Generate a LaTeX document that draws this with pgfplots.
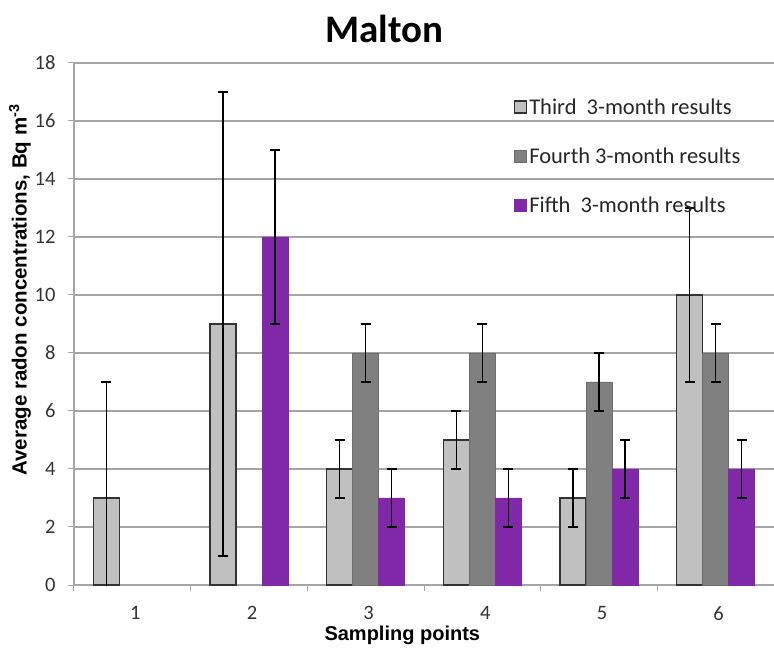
\documentclass[border=0pt]{standalone}
\usepackage{pgfplots}
\pgfplotsset{compat=1.18}
\usepackage{fontspec}
\setmainfont{Carlito}
\newfontfamily\arialf{Liberation Sans}
\usetikzlibrary{calc}
\definecolor{thirdc}{RGB}{192,192,192}
\definecolor{fourthc}{RGB}{128,128,128}
\definecolor{fifthc}{RGB}{128,40,168}
\definecolor{gridc}{RGB}{165,165,165}
\begin{document}
\begin{tikzpicture}
\begin{axis}[
  name=ax,
  scale only axis,
  width=700bp, height=522bp,
  xmin=0.5, xmax=6.5,
  ymin=0, ymax=18,
  ytick={0,2,...,18},
  xtick={1,2,3,4,5,6},
  minor xtick={0.5,1.5,...,6.5},
  major x tick style={draw=none},
  minor tick length=6bp,
  major tick length=6bp,
  tick align=outside,
  tick style={gridc, line width=1bp},
  axis x line*=bottom,
  axis y line*=left,
  axis line style={-, gridc, line width=1.5bp},
  ymajorgrids,
  grid style={gridc, line width=1.5bp},
  /pgf/number format/assume math mode=true,
  ticklabel style={font=\fontsize{20.5bp}{24bp}\selectfont, text=black!80},
  xticklabel style={yshift=-12bp, xshift=3bp},
  yticklabel style={xshift=-9bp},
  ybar=0pt,
  bar width=26bp,
  title={Malton},
  title style={font=\fontsize{39bp}{44bp}\selectfont\bfseries, at={(axis description cs:0.443,1.027)}, anchor=base},
  xlabel={Sampling points},
  xlabel style={font=\arialf\bfseries\fontsize{20bp}{24bp}\selectfont, at={(axis description cs:0.469,-0.072)}, anchor=north},
  ylabel={Average radon concentrations, Bq m\textsuperscript{-3}},
  ylabel style={font=\arialf\bfseries\fontsize{20.5bp}{24bp}\selectfont, at={(axis description cs:-0.077,0.565)}, anchor=center},
  legend style={draw=none, fill=none, at={(axis description cs:0.624,0.94)}, anchor=north west,
    font=\fontsize{22.5bp}{26bp}\selectfont, row sep=28bp, text=black!85},
  legend cell align=left,
  legend image code/.code={\draw[#1] (0bp,-6bp) rectangle (12bp,6bp);},
  error bars/y dir=both,
  error bars/y explicit,
  error bars/error mark=|,
  error bars/error bar style={black, line width=1.3bp},
  error bars/error mark options={black, line width=1.3bp, mark size=5bp},
]
\addplot[fill=thirdc, draw=black!80, line width=1.3bp]
  table[x=x, y=y, y error plus=ep, y error minus=em] {
x y ep em
1 3 4 4
2 9 8 8
3 4 1 1
4 5 1 1
5 3 1 1
6 10 3 3
};
\addlegendentry{Third\ \ 3-month results}
\addplot[fill=fourthc, draw=fourthc!85!black, line width=0.8bp]
  table[x=x, y=y, y error plus=ep, y error minus=em] {
x y ep em
3 8 1 1
4 8 1 1
5 7 1 1
6 8 1 1
};
\addlegendentry{Fourth 3-month results}
\addplot[fill=fifthc, draw=fifthc, line width=0.8bp]
  table[x=x, y=y, y error plus=ep, y error minus=em] {
x y ep em
2 12 3 3
3 3 1 1
4 3 1 1
5 4 1 1
6 4 1 1
};
\addlegendentry{Fifth\ \ 3-month results}
\end{axis}
\pgfresetboundingbox
\path ($(ax.south west)+(-74bp,-63bp)$) rectangle ($(ax.north east)+(0bp,63bp)$);
\end{tikzpicture}
\end{document}
